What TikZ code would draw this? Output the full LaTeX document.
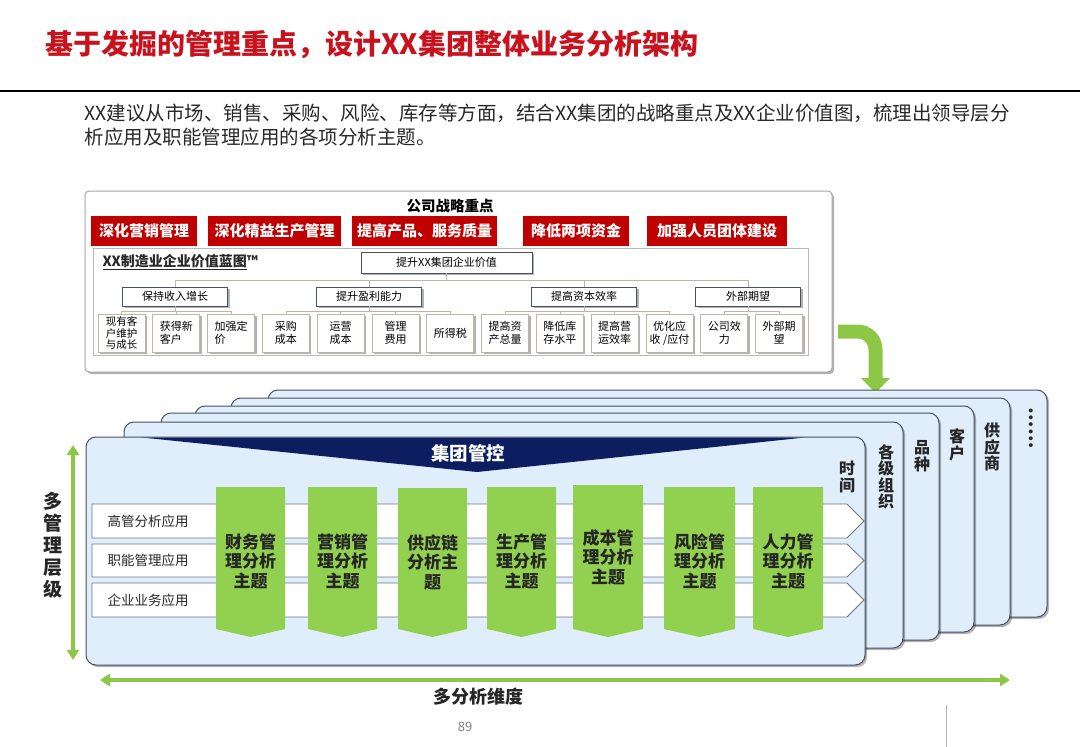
\documentclass[tikz,border=0pt]{standalone}
\usepackage{fontspec}
\setmainfont{Noto Sans CJK SC}
\usetikzlibrary{shadows,arrows.meta,calc}
\definecolor{titlered}{RGB}{200,18,30}
\definecolor{boxred}{RGB}{192,0,0}
\definecolor{navy}{RGB}{12,30,95}
\definecolor{cardfill}{RGB}{223,238,250}
\definecolor{cardborder}{RGB}{72,82,98}
\definecolor{colgreen}{RGB}{146,208,80}
\definecolor{arrowgreen}{RGB}{140,200,70}
\definecolor{bodytext}{RGB}{40,40,40}
\definecolor{connc}{RGB}{190,182,165}
\tikzset{
  redbox/.style={fill=boxred, text=white, font=\fontsize{15}{17}\selectfont\bfseries, minimum height=30pt, inner sep=0pt},
  shad/.style={drop shadow={shadow xshift=2pt, shadow yshift=-2pt, fill=black, opacity=0.3}},
  vtop/.style={draw=cardborder, line width=0.8pt, fill=white, shad, font=\fontsize{11}{12}\selectfont, minimum height=21pt, inner sep=0pt},
  vmid/.style={draw=cardborder, line width=0.8pt, fill=white, shad, font=\fontsize{11}{12}\selectfont, minimum width=105pt, minimum height=19pt, inner sep=0pt},
  vleaf/.style={draw=connc, line width=0.8pt, fill=white, shad, font=\fontsize{11}{13}\selectfont, minimum width=47pt, minimum height=38pt, inner sep=0pt, align=center},
  conn/.style={draw=connc, line width=0.8pt},
  card/.style={draw=cardborder, fill=cardfill, line width=1pt, rounded corners=10pt, shad},
  rowbar/.style={draw=cardborder!80, fill=white, line width=0.8pt},
  rowtext/.style={font=\fontsize{13.5}{15}\selectfont, text=bodytext, anchor=west},
  coltext/.style={font=\fontsize{17}{19.5}\selectfont\bfseries, align=center, text=black!85},
  vlabel/.style={font=\fontsize{16}{16.5}\selectfont\bfseries, align=center, text=black!85},
  garrow/.style={draw=arrowgreen, line width=3.5pt, {Triangle[length=10pt,width=12pt]}-{Triangle[length=10pt,width=12pt]}},
}
\begin{document}
\begin{tikzpicture}[x=1pt,y=-1pt]
\fill[white] (0,0) rectangle (1080,747);
\useasboundingbox (0,0) rectangle (1080,747);

% title
\node[anchor=west, text=titlered, font=\fontsize{28}{30}\selectfont\bfseries] (title) at (42,45) {基于发掘的管理重点，设计XX集团整体业务分析架构};
\draw[line width=2pt] (0,91) -- (1080,91);
\node[anchor=west, text=bodytext, font=\fontsize{19.5}{22}\selectfont] (p1) at (81,113) {XX建议从市场、销售、采购、风险、库存等方面，结合XX集团的战略重点及XX企业价值图，梳理出领导层分};
\node[anchor=west, text=bodytext, font=\fontsize{19.5}{22}\selectfont] (p2) at (81,137) {析应用及职能管理应用的各项分析主题。};

% top box
\draw[draw=gray!70, fill=white, rounded corners=4pt, line width=1pt, shad] (85,191) rectangle (832,372);
\node[font=\fontsize{14.5}{16}\selectfont\bfseries] (strat) at (450,206) {公司战略重点};
\node[redbox, minimum width=106pt] (r1) at (144,231) {深化营销管理};
\node[redbox, minimum width=133pt] (r2) at (274.5,231) {深化精益生产管理};
\node[redbox, minimum width=145pt] (r3) at (424.5,231) {提高产品、服务质量};
\node[redbox, minimum width=106pt] (r4) at (576,231) {降低两项资金};
\node[redbox, minimum width=140pt] (r5) at (717,231) {加强人员团体建设};

\draw[draw=gray!55, line width=0.8pt] (93,248) rectangle (808,355);
\node[anchor=west, font=\fontsize{14}{16}\selectfont\bfseries, text=bodytext] (vmap) at (99,262) {\underline{XX制造业企业价值蓝图}™};

\node[vtop, minimum width=171pt] (top) at (446.5,262.5) {提升XX集团企业价值};
\node[vmid] (m1) at (175,296.5) {保持收入增长};
\node[vmid] (m2) at (369,296.5) {提升盈利能力};
\node[vmid] (m3) at (584,296.5) {提高资本效率};
\node[vmid] (m4) at (748,296.5) {外部期望};

\node[vleaf, font=\fontsize{10.5}{11.6}\selectfont] (l0) at (121.5,333) {现有客\\户维护\\与成长};
\node[vleaf, align=left] (l1) at (176.3,333) {获得新\\客户};
\node[vleaf, align=left] (l2) at (231.1,333) {加强定\\价};
\node[vleaf] (l3) at (285.9,333) {采购\\成本};
\node[vleaf] (l4) at (340.7,333) {运营\\成本};
\node[vleaf] (l5) at (395.5,333) {管理\\费用};
\node[vleaf] (l6) at (450.3,333) {所得税};
\node[vleaf] (l7) at (505.1,333) {提高资\\产总量};
\node[vleaf] (l8) at (559.9,333) {降低库\\存水平};
\node[vleaf] (l9) at (614.7,333) {提高营\\运效率};
\node[vleaf] (l10) at (669.5,333) {优化应\\收 /应付};
\node[vleaf] (l11) at (724.3,333) {公司效\\力};
\node[vleaf] (l12) at (779.1,333) {外部期\\望};

\foreach \m in {m1,m2,m3,m4} \draw[conn] (top.south) -- ++(0,7) -| (\m.north);
\foreach \l in {l0,l1,l2} \draw[conn] (m1.south) -- ++(0,5) -| (\l.north);
\foreach \l in {l3,l4,l5,l6} \draw[conn] (m2.south) -- ++(0,5) -| (\l.north);
\foreach \l in {l7,l8,l9,l10} \draw[conn] (m3.south) -- ++(0,5) -| (\l.north);
\foreach \l in {l11,l12} \draw[conn] (m4.south) -- ++(0,5) -| (\l.north);

% bent green arrow
\draw[arrowgreen, line width=14pt, rounded corners=18pt] (838,331.5) -- (875.5,331.5) -- (875.5,380);
\fill[arrowgreen] (861,378) -- (890,378) -- (875.5,393) -- cycle;

% stacked cards
\draw[card] (268,390) rectangle (1047,617);
\draw[card] (231,398) rectangle (1010,625);
\draw[card] (195,406) rectangle (974,632);
\draw[card] (161,413) rectangle (939,640);
\draw[card] (124,422) rectangle (903,648);
\draw[card] (86,437) rectangle (865,665);

\node[rotate=-90, font=\fontsize{18}{18}\selectfont\bfseries, text=black!85] (dots) at (1031,428) {……};
\node[vlabel] (sup) at (992,447) {供\\应\\商};
\node[vlabel] (cust) at (957,445) {客\\户};
\node[vlabel] (kind) at (922,456) {品\\种};
\node[vlabel] (org) at (886,477) {各\\级\\组\\织};
\node[vlabel] (time) at (847,477) {时\\间};

% navy wedge
\fill[navy] (142,437.5) -- (805,437.5) -- (477,472) -- cycle;
\node[text=white, font=\fontsize{18.5}{20}\selectfont\bfseries] (ctrl) at (468,453) {集团管控};

% rows
\draw[rowbar] (92,504) -- (847,504) -- (864,521) -- (847,538) -- (92,538) -- cycle;
\draw[rowbar] (92,544) -- (847,544) -- (864,560.5) -- (847,577) -- (92,577) -- cycle;
\draw[rowbar] (92,583) -- (847,583) -- (864,600) -- (847,617) -- (92,617) -- cycle;
\node[rowtext] (row1) at (104,521) {高管分析应用};
\node[rowtext] (row2) at (104,560.5) {职能管理应用};
\node[rowtext] (row3) at (104,600) {企业业务应用};

% green columns
\foreach \a/\b/\t in {216/285/487, 308/377/487, 398/467/488, 487/556/487, 573/643/485, 664/735/487, 753/823/487}{
  \fill[colgreen] (\a,\t) -- (\b,\t) -- (\b,629) -- ({(\a+\b)/2},637) -- (\a,629) -- cycle;
}
\node[coltext] (c1) at (250.5,561) {财务管\\理分析\\主题};
\node[coltext] (c2) at (342.5,561) {营销管\\理分析\\主题};
\node[coltext] (c3) at (432.5,562) {供应链\\分析主\\题};
\node[coltext] (c4) at (521.5,561) {生产管\\理分析\\主题};
\node[coltext] (c5) at (608,557) {成本管\\理分析\\主题};
\node[coltext] (c6) at (699.5,561) {风险管\\理分析\\主题};
\node[coltext] (c7) at (788,561) {人力管\\理分析\\主题};

% left arrow
\coordinate (la1) at (73,445);
\coordinate (la2) at (73,660);
\draw[garrow] (la1) -- (la2);
\node[font=\fontsize{19}{22}\selectfont\bfseries, align=center, text=black!85] (lvl) at (53,545) {多\\管\\理\\层\\级};

% bottom arrow
\coordinate (ba1) at (100,680);
\coordinate (ba2) at (1010,680);
\draw[garrow] (ba1) -- (ba2);
\node[font=\fontsize{18}{20}\selectfont\bfseries, text=black!85] (dim) at (478,697) {多分析维度};

\node[font=\fontsize{13}{15}\selectfont, text=gray] (pg) at (465,727) {89};
\draw[gray!60, line width=0.8pt] (946,705) -- (946,747);
\end{tikzpicture}
\end{document}
